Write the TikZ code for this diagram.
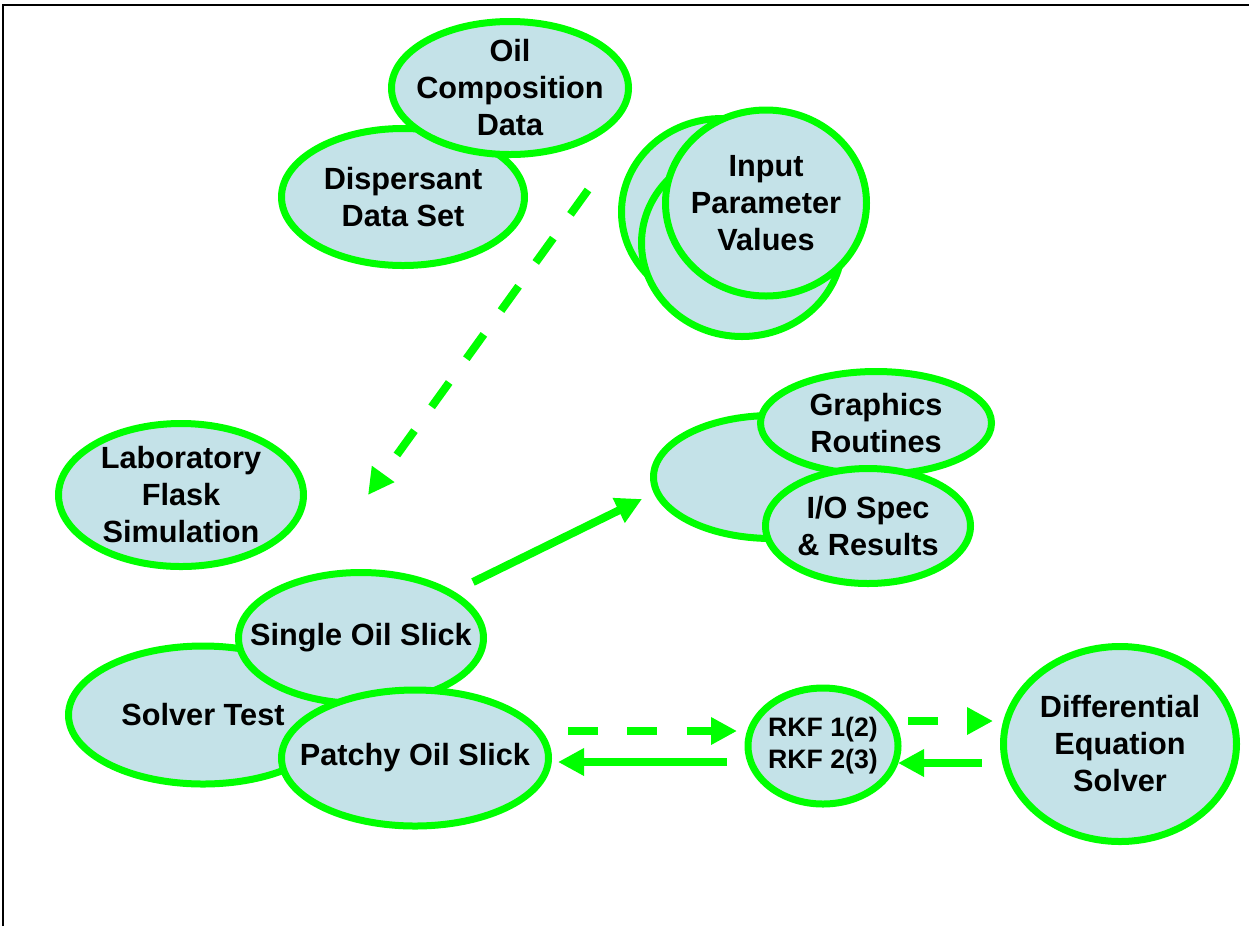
\documentclass[tikz,border=0pt]{standalone}
\usepackage{fontspec}
\setmainfont{Liberation Sans}
\usetikzlibrary{shapes.geometric,arrows.meta,calc}
\definecolor{lgreen}{RGB}{0,255,0}
\definecolor{lblue}{RGB}{196,226,232}
\begin{document}
\begin{tikzpicture}[x=0.75pt,y=-0.75pt,
  bub/.style n args={2}{ellipse, draw=lgreen, fill=lblue, line width=5.25pt,
    inner sep=0pt, outer sep=0pt, minimum width=#1*0.75pt, minimum height=#2*0.75pt},
  txt/.style={align=center, inner sep=0pt, font=\fontsize{23}{27.75}\selectfont\bfseries},
  smalltxt/.style={align=center, inner sep=0pt, font=\fontsize{20}{24}\selectfont\bfseries},
  conn/.style={draw=lgreen, line width=6pt, -{Triangle[length=19.5pt,width=19.5pt]}},
  dconn/.style={conn, dash pattern=on 22.5pt off 22pt},
  frame/.style={draw=black, line width=1.5pt}]
\useasboundingbox (0,0) rectangle (1249,926);
\draw[frame] (3,926) -- (3,5) -- (1249,5);

\node[bub={243}{137}, label={[txt]center:Dispersant\\Data Set}] (disp) at (403,197) {};
\node[bub={237}{133}, label={[txt]center:Oil\\Composition\\Data}] (oil) at (510,88) {};

\node[bub={201}{187}] (inA) at (722,212) {};
\node[bub={201}{187}] (inB) at (742,243) {};
\node[bub={201}{186}, label={[txt]center:Input\\Parameter\\Values}] (inC) at (766,203) {};

\node[bub={245}{143}, label={[txt]center:Laboratory\\Flask\\Simulation}] (lab) at (181,495) {};

\node[bub={269}{138}, label={[txt]center:Solver Test}] (solver) at (203,715) {};
\node[bub={245}{131}, label={[txt]center:Single Oil Slick}] (single) at (361,638) {};
\node[bub={267}{136}, label={[txt]center:Patchy Oil Slick}] (patchy) at (415,758) {};

\node[bub={237}{123}] (gback) at (772,477) {};
\node[bub={231}{103}, label={[txt]center:Graphics\\Routines}] (graph) at (876,423) {};
\node[bub={205}{115}, label={[txt]center:I/O Spec\\\& Results}] (io) at (868,526) {};

\node[bub={150}{116}, label={[smalltxt]center:RKF 1(2)\\RKF 2(3)}] (rkf) at (823,746) {};
\node[bub={233}{195}, label={[txt]center:Differential\\Equation\\Solver}] (diff) at (1120,744) {};

\coordinate (d1) at (588,190);
\coordinate (d2) at (368,495);
\coordinate (s1) at (473,582);
\coordinate (s2) at (642,499);

\draw[dconn] (d1) -- (d2);
\draw[conn] (s1) -- (s2);
\draw[dconn] ([shift={(19.5,-27)}]patchy.east) -- ([shift={(-11,-15)}]rkf.west);
\draw[conn] ([shift={(-21,16)}]rkf.west) -- ([shift={(9.5,4)}]patchy.east);
\draw[dconn] ([shift={(10,-25)}]rkf.east) -- ([shift={(-10.5,-23)}]diff.west);
\draw[conn] ([shift={(-21.5,19)}]diff.west) -- ([shift={(0,17)}]rkf.east);
\end{tikzpicture}
\end{document}
